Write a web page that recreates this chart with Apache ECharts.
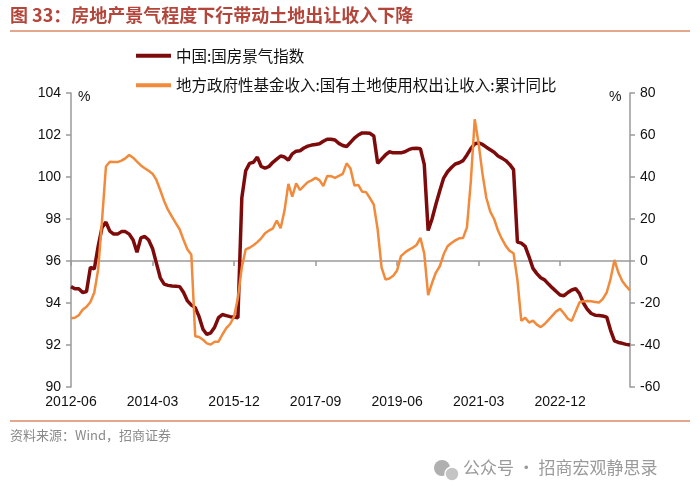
<!DOCTYPE html>
<html>
<head>
<meta charset="utf-8">
<script src="https://cdn.jsdelivr.net/npm/echarts@6/dist/echarts.min.js"></script>
<style>
  html, body { margin: 0; padding: 0; background: #fff; }
  #chart { width: 700px; height: 500px; }
</style>
</head>
<body>
<div id="chart"></div>
<script>
// 月度类目：2012-06 ~ 2024-06
const months = []
for (let y = 2012, m = 6; y < 2024 || (y === 2024 && m <= 6); m++) {
  if (m > 12) { m = 1; y++ }
  if (y === 2024 && m > 6) break
  months.push(y + '-' + String(m).padStart(2, '0'))
}

// 中国:国房景气指数（左轴）
const jingqi = [
  94.78, 94.68, 94.68, 94.5, 94.55, 95.7, 95.62, 96.7, 97.6, 97.85,
  97.42, 97.28, 97.28, 97.4, 97.4, 97.28, 97.0, 96.42, 97.1, 97.17,
  97.0, 96.6, 95.9, 95.2, 94.9, 94.84, 94.81, 94.8, 94.78, 94.5,
  94.1, 93.9, 93.78, 93.35, 92.75, 92.5, 92.58, 92.85, 93.3, 93.45,
  93.4, 93.35, 93.33, 93.3, 99.0, 100.3, 100.65, 100.7, 100.95, 100.5,
  100.42, 100.5, 100.7, 100.85, 101.0, 100.95, 100.8, 101.1, 101.23, 101.25,
  101.38, 101.47, 101.52, 101.55, 101.58, 101.7, 101.8, 101.8, 101.76, 101.6,
  101.5, 101.45, 101.65, 101.85, 102.0, 102.1, 102.1, 102.08, 101.95, 100.65,
  100.85, 101.05, 101.2, 101.15, 101.15, 101.15, 101.2, 101.3, 101.36, 101.37,
  101.35, 100.6, 97.45, 98.0, 98.7, 99.35, 99.95, 100.25, 100.45, 100.62,
  100.68, 100.78, 101.05, 101.35, 101.58, 101.62, 101.55, 101.42, 101.3, 101.18,
  101.0, 100.9, 100.78, 100.6, 100.35, 96.9, 96.85, 96.7, 96.2, 95.65,
  95.4, 95.2, 95.1, 94.9, 94.72, 94.55, 94.38, 94.35, 94.5, 94.62,
  94.68, 94.45, 94.0, 93.7, 93.5, 93.42, 93.4, 93.38, 93.33, 92.7,
  92.2, 92.12, 92.08, 92.03, 92.0
]

// 地方政府性基金收入:国有土地使用权出让收入:累计同比（右轴，%）
const tudi = [
  -27.3, -27.0, -25.8, -23.2, -21.8, -19.5, -15.0, -4, 19.5, 45,
  47.3, 47.2, 47.1, 47.8, 48.9, 50.5, 49.2, 47.3, 45.5, 44.2,
  43.0, 41.6, 38.6, 33.7, 28.5, 24.3, 21.1, 18.0, 15.0, 10.0,
  5.5, 3.0, -35.8, -36.2, -37.5, -39.2, -39.8, -38.5, -38.4, -35,
  -32, -30, -26.5, -17.5, -3, 5.5, 6.3, 7.5, 9.0, 10.8,
  13.2, 14.5, 15.5, 19.3, 15.6, 24, 36.7, 30.6, 37.0, 33.8,
  35.8, 37.6, 38.4, 39.6, 38.5, 35.7, 40.5, 40.4, 39.6, 40.5,
  41.5, 46.5, 44.0, 36.0, 36.2, 33.0, 32.8, 30.0, 26.8, 15.0,
  -3, -8.8, -8.3, -7, -4.5, 2.3, 4.0, 5.3, 6.3, 7.6,
  11.0, 3.5, -16.2, -10.5, -5.5, -2.5, 3.2, 7.0, 8.6, 9.8,
  10.8, 11.0, 16.0, 38, 67.5, 56, 41.5, 30, 23.5, 20,
  14.5, 10.5, 7.2, 4.8, 3.7, -9, -28.5, -27.0, -29.3, -28.4,
  -30.3, -31.5, -30, -28, -26, -24, -22.8, -25, -27.5, -28.5,
  -24, -19.6, -19.2, -19.0, -19.2, -19.5, -19.8, -18, -15, -8.5,
  0.5, -5.5, -9.5, -12, -14
]

const seriesNames = ['中国:国房景气指数', '地方政府性基金收入:国有土地使用权出让收入:累计同比']

const chart = echarts.init(document.getElementById('chart'))

const axisLineStyle = { color: '#9a9a9a', width: 1.5 }
const labelStyle = { color: '#111', fontSize: 14, fontFamily: 'Liberation Sans, Arial' }

const option = {
  backgroundColor: '#fff',
  animation: false,
  legend: {
    orient: 'vertical',
    left: 131,
    top: 43,
    icon: 'rect',
    itemWidth: 35,
    itemHeight: 4,
    itemGap: 14,
    textStyle: { color: '#111', fontSize: 15.5, fontFamily: 'Noto Sans CJK SC' },
    data: seriesNames
  },
  grid: { left: 71, right: 70, top: 93, bottom: 113 },
  xAxis: {
    type: 'category',
    data: months,
    boundaryGap: false,
    axisLine: { lineStyle: axisLineStyle },
    axisTick: { interval: 20, length: 5, lineStyle: axisLineStyle },
    axisLabel: Object.assign({ interval: 20, margin: 8 }, labelStyle),
    splitLine: { show: false }
  },
  yAxis: [
    {
      type: 'value',
      min: 90,
      max: 104,
      interval: 2,
      axisLine: { show: true, lineStyle: axisLineStyle },
      axisTick: { show: true, length: 5, lineStyle: axisLineStyle },
      axisLabel: Object.assign({ margin: 10 }, labelStyle),
      splitLine: { show: false }
    },
    {
      type: 'value',
      min: -60,
      max: 80,
      interval: 20,
      axisLine: { show: true, lineStyle: axisLineStyle },
      axisTick: { show: true, length: 5, lineStyle: axisLineStyle },
      axisLabel: Object.assign({ margin: 10 }, labelStyle),
      splitLine: { show: false }
    }
  ],
  series: [
    {
      name: seriesNames[0],
      type: 'line',
      data: jingqi,
      yAxisIndex: 0,
      symbol: 'none',
      lineStyle: { color: '#7e0b0b', width: 3.5 },
      itemStyle: { color: '#7e0b0b' }
    },
    {
      name: seriesNames[1],
      type: 'line',
      data: tudi,
      yAxisIndex: 1,
      symbol: 'none',
      lineStyle: { color: '#f28a3c', width: 2.5 },
      itemStyle: { color: '#f28a3c' }
    }
  ],
  graphic: [
    {
      type: 'text', left: 10, top: 6,
      style: { text: '图 33：房地产景气程度下行带动土地出让收入下降', fill: '#b3453a', fontSize: 18, fontWeight: 'bold', fontFamily: 'Noto Sans CJK SC' }
    },
    { type: 'line', shape: { x1: 10, y1: 31, x2: 690, y2: 31 }, style: { stroke: '#d98a66', lineWidth: 1.5 } },
    { type: 'line', shape: { x1: 10, y1: 421, x2: 690, y2: 421 }, style: { stroke: '#d98a66', lineWidth: 1.5 } },
    { type: 'text', left: 78, top: 90, style: { text: '%', fill: '#111', fontSize: 14, fontFamily: 'Liberation Sans, Arial' } },
    { type: 'text', left: 609, top: 90, style: { text: '%', fill: '#111', fontSize: 14, fontFamily: 'Liberation Sans, Arial' } },
    {
      type: 'text', left: 10, top: 429,
      style: { text: '资料来源：Wind，招商证券', fill: '#8a8a8a', fontSize: 13, fontFamily: 'Noto Sans CJK SC' }
    },
    { type: 'circle', shape: { cx: 442, cy: 468, r: 8 }, style: { fill: '#b0b0b0' } },
    { type: 'circle', shape: { cx: 452, cy: 474, r: 7 }, style: { fill: '#c4c4c4', stroke: '#fff', lineWidth: 1.5 } },
    {
      type: 'text', left: 463, top: 459,
      style: { text: '公众号 · 招商宏观静思录', fill: '#9a9a9a', fontSize: 17, fontFamily: 'Noto Sans CJK SC' }
    }
  ]
}

chart.setOption(option)
</script>
</body>
</html>
